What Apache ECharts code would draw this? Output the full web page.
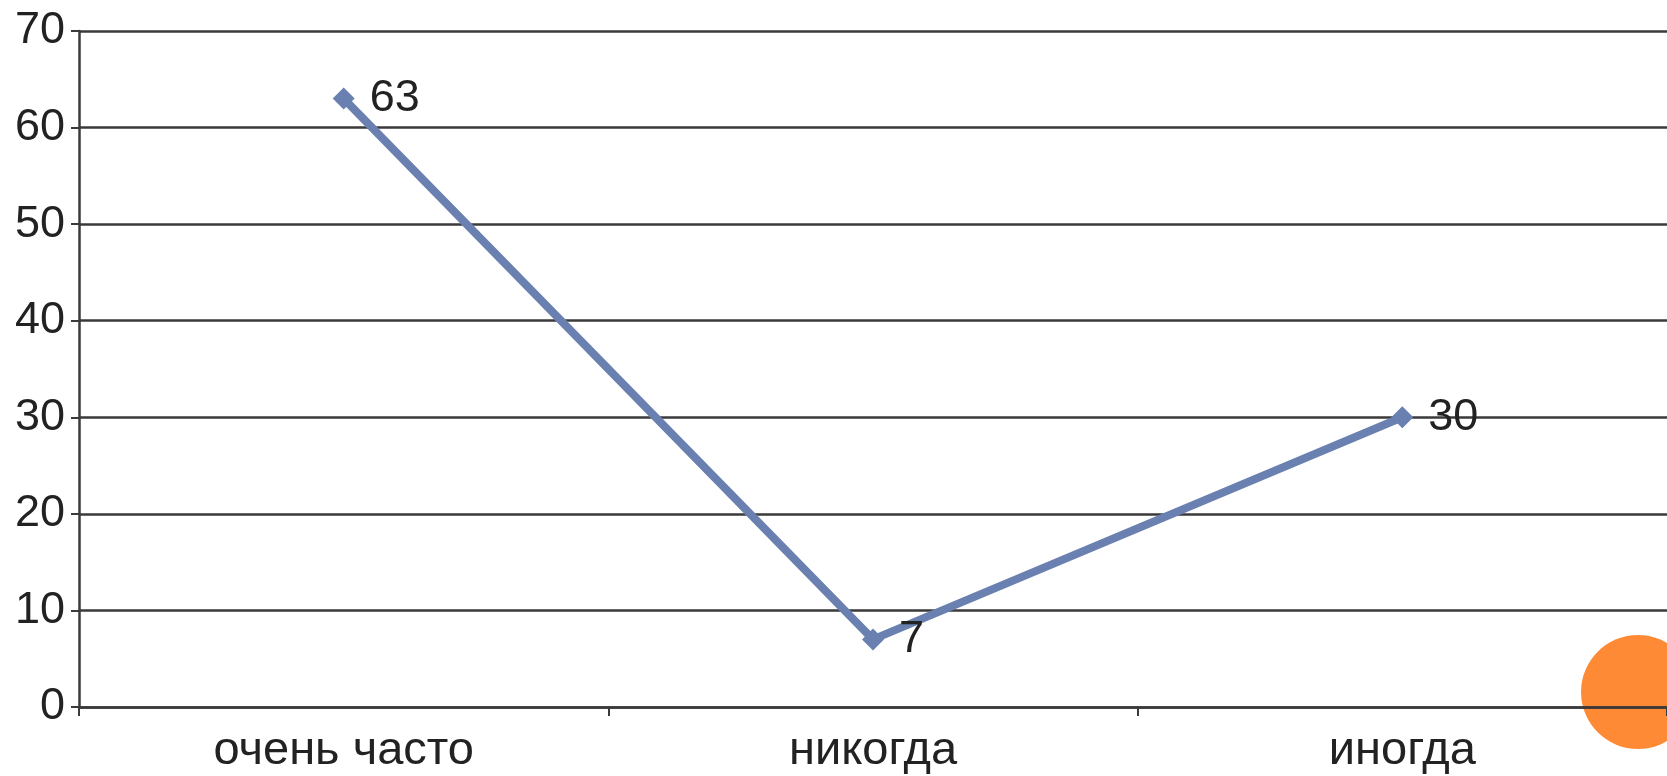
<!DOCTYPE html>
<html><head><meta charset="utf-8">
<script src="https://cdn.jsdelivr.net/npm/echarts@6/dist/echarts.min.js"></script>
<style>html,body{margin:0;padding:0;background:#fff}#c{width:1667px;height:776px}</style>
</head><body><div id="c"></div>
<script>
const categories = ['очень часто', 'никогда', 'иногда'];
const values = [63, 7, 30];
const yTicks = [0, 10, 20, 30, 40, 50, 60, 70];

const chart = echarts.init(document.getElementById('c'));
const font = '"Liberation Sans", Arial, sans-serif';
chart.setOption({
  backgroundColor: '#fff',
  animation: false,
  grid: { left: 79, top: 31, width: 1594, bottom: 69, containLabel: false },
  graphic: [{
    type: 'circle', zlevel: 0, z: 0,
    shape: { cx: 1638, cy: 692, r: 57 },
    style: { fill: '#FF8A35' }
  }],
  xAxis: {
    type: 'category', data: categories, boundaryGap: true, zlevel: 1,
    axisLine: { lineStyle: { color: '#3a3a3a', width: 2.5 } },
    axisTick: { show: true, length: 9, lineStyle: { color: '#3a3a3a', width: 2 } },
    axisLabel: { color: '#222', fontSize: 47, fontFamily: font, margin: 21 }
  },
  yAxis: {
    type: 'value', min: yTicks[0], max: yTicks[yTicks.length - 1], interval: 10, zlevel: 1,
    axisLine: { show: true, lineStyle: { color: '#3a3a3a', width: 2.5 } },
    axisTick: { show: true, length: 8, lineStyle: { color: '#3a3a3a', width: 2 } },
    splitLine: { show: true, lineStyle: { color: '#3a3a3a', width: 2.5 } },
    axisLabel: { color: '#222', fontSize: 45, fontFamily: font, margin: 14 }
  },
  series: [{
    type: 'line', data: values, zlevel: 1, z: 10,
    symbol: 'diamond', symbolSize: 22,
    lineStyle: { color: '#6A80B0', width: 8 },
    itemStyle: { color: '#6A80B0' },
    label: { show: true, position: 'right', distance: 15, color: '#222', fontSize: 45, fontFamily: font }
  }]
});
</script></body></html>
